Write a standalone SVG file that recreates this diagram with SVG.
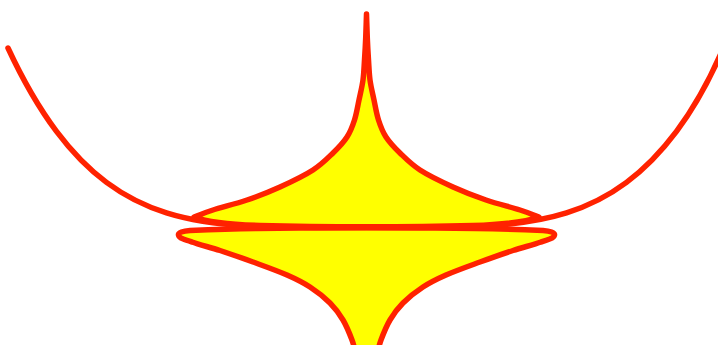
<svg xmlns="http://www.w3.org/2000/svg" width="718" height="345" viewBox="0 0 718 345">
<style>
.s{stroke:#ff2200;stroke-width:5.5;stroke-linejoin:round;stroke-linecap:round}
.f{fill:#ffff00}
.n{fill:none}
</style>
<rect width="718" height="345" fill="#ffffff"/>
<path id="upper-shape" class="s f" d="M194,217 C205,221 230,224.5 260,225.5 C300,226.6 340,226.8 366.5,226.8 C393,226.8 433,226.6 473,225.5 C503,224.5 528,221 539,217 C532.7,214.7 528.8,212.8 520,210 C511.2,207.2 497.2,203.8 486,200 C474.8,196.2 464,192 453,187 C442,182 428.8,175.7 420,170 C411.2,164.3 405.7,158.5 400,153 C394.3,147.5 389.6,142.5 386,137 C382.4,131.5 380.5,126.2 378.5,120 C376.5,113.8 375.4,106.7 374,100 C372.6,93.3 370.9,86.7 370,80 C369.1,73.3 368.95,67 368.5,60 C368.05,53 367.63,45.7 367.3,38 C366.97,30.3 366.77,22 366.5,14 C366.23,22 366.03,30.3 365.7,38 C365.37,45.7 364.95,53 364.5,60 C364.05,67 363.9,73.3 363,80 C362.1,86.7 360.4,93.3 359,100 C357.6,106.7 356.5,113.8 354.5,120 C352.5,126.2 350.6,131.5 347,137 C343.4,142.5 338.7,147.5 333,153 C327.3,158.5 321.8,164.3 313,170 C304.2,175.7 291,182 280,187 C269,192 258.2,196.2 247,200 C235.8,203.8 221.8,207.2 213,210 C204.2,212.8 200.3,214.7 194,217 Z"/>
<path id="lower-shape" class="s f" d="M190,230.5 C183,231 178,232.5 178.5,235 C179,238 185,240 192,242 C198.8,244.6 209.8,247.2 220,250.5 C230.2,253.8 241.8,257.9 253,262 C264.2,266.1 277.5,270.8 287,275 C296.5,279.2 302.8,282.3 310,287 C317.2,291.7 324.5,297.5 330,303 C335.5,308.5 339.3,313.8 343,320 C346.7,326.2 349.8,334.2 352,340 C354.2,345.8 354.7,350 356,355 L377,355 C378.3,350 378.8,345.8 381,340 C383.2,334.2 386.3,326.2 390,320 C393.7,313.8 397.5,308.5 403,303 C408.5,297.5 415.8,291.7 423,287 C430.2,282.3 436.5,279.2 446,275 C455.5,270.8 468.8,266.1 480,262 C491.2,257.9 502.8,253.8 513,250.5 C523.2,247.2 534.2,244.6 541,242 C548,240 554,238 554.5,235 C555,232.5 550,231 543,230.5 C520,229.5 500,228.8 476,228.5 C440,228 400,227.8 366.5,227.8 C333,227.8 293,228 257,228.5 C233,228.8 213,229.5 190,230.5 Z"/>
<path id="curve" class="s n" d="M8,48 C24.17,82.81 40.33,109.85 56.5,131.4 C73.17,153.62 89.83,169.97 106.5,182.4 C126.5,197.32 146.5,206.62 166.5,212.9 C193.17,221.27 219.83,224.33 246.5,225.88 C286.5,227.5 326.5,227.5 366.5,227.5 C406.5,227.5 446.5,227.5 486.5,225.88 C513.17,224.33 539.83,221.27 566.5,212.9 C586.5,206.62 606.5,197.32 626.5,182.4 C643.17,169.97 659.83,153.62 676.5,131.4 C692.67,109.85 708.83,82.81 725,44"/>
</svg>
